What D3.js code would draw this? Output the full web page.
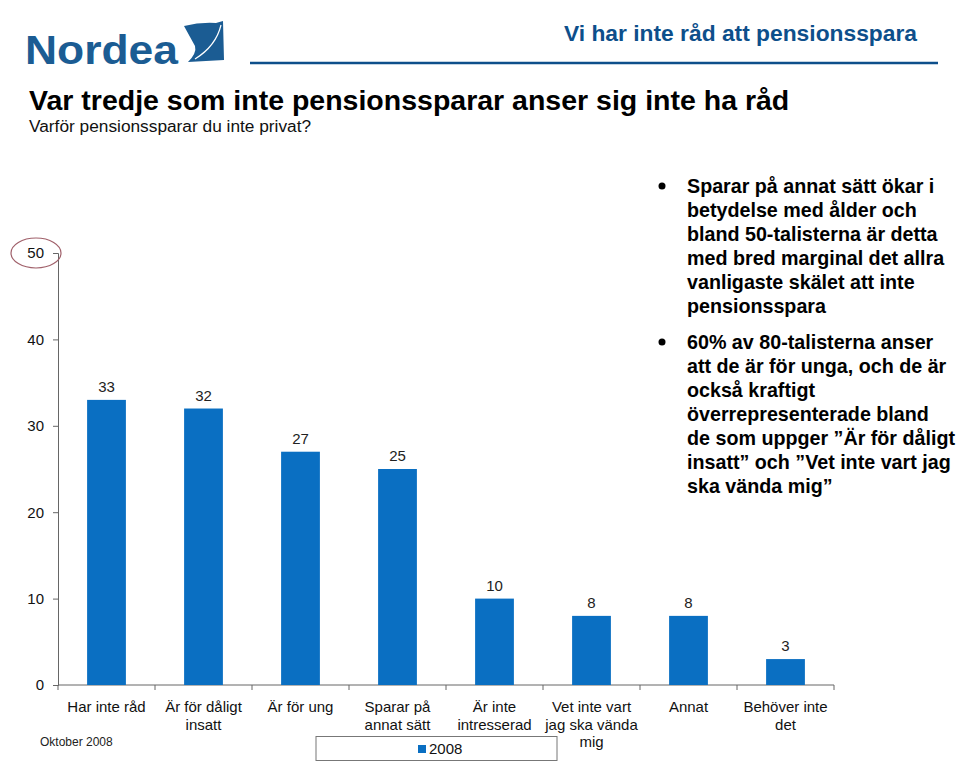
<!DOCTYPE html>
<html>
<head>
<meta charset="utf-8">
<script src="https://cdn.jsdelivr.net/npm/d3@7"></script>
<style>
  body { margin: 0; background: #fff; }
  svg { display: block; font-family: "Liberation Sans", Arial, sans-serif; }
</style>
</head>
<body>
<script>
const categories = [
  ['Har inte råd'],
  ['Är för dåligt', 'insatt'],
  ['Är för ung'],
  ['Sparar på', 'annat sätt'],
  ['Är inte', 'intresserad'],
  ['Vet inte vart', 'jag ska vända', 'mig'],
  ['Annat'],
  ['Behöver inte', 'det']
]
const values2008 = [33, 32, 27, 25, 10, 8, 8, 3]
const yTicks = [0, 10, 20, 30, 40, 50]

const bullets = [
  ['Sparar på annat sätt ökar i', 'betydelse med ålder och', 'bland 50-talisterna är detta',
    'med bred marginal det allra', 'vanligaste skälet att inte', 'pensionsspara'],
  ['60% av 80-talisterna anser', 'att de är för unga, och de är', 'också kraftigt',
    'överrepresenterade bland', 'de som uppger ”Är för dåligt', 'insatt” och ”Vet inte vart jag',
    'ska vända mig”']
]

const WIDTH = 959
const HEIGHT = 773
const BLUE = '#0a6fc2'
const NAVY = '#0d4f8b'

const svg = d3.select('body').append('svg')
  .attr('width', WIDTH)
  .attr('height', HEIGHT)

// header
svg.append('text')
  .attr('x', 25).attr('y', 64)
  .attr('font-size', 40).attr('font-weight', 'bold')
  .attr('fill', '#1b5c93')
  .attr('textLength', 153).attr('lengthAdjust', 'spacingAndGlyphs')
  .text('Nordea')

svg.append('path')
  .attr('d', 'M184,26 Q200,22 216,23 L223,21 L224,60 L188,62 Q197,53 195,46 Z')
  .attr('fill', '#1b5c93')
svg.append('path')
  .attr('d', 'M195,59 Q216,46 221,25')
  .attr('fill', 'none').attr('stroke', '#fff').attr('stroke-width', 1.2)

svg.append('text')
  .attr('x', 917).attr('y', 41)
  .attr('text-anchor', 'end')
  .attr('font-size', 22.8).attr('font-weight', 'bold')
  .attr('fill', NAVY)
  .text('Vi har inte råd att pensionsspara')

svg.append('line')
  .attr('x1', 250).attr('x2', 938)
  .attr('y1', 63).attr('y2', 63)
  .attr('stroke', NAVY).attr('stroke-width', 2.5)

svg.append('text')
  .attr('x', 29).attr('y', 110)
  .attr('font-size', 28.5).attr('font-weight', 'bold')
  .attr('fill', '#000')
  .text('Var tredje som inte pensionssparar anser sig inte ha råd')

svg.append('text')
  .attr('x', 29).attr('y', 132)
  .attr('font-size', 17.3)
  .attr('fill', '#111')
  .text('Varför pensionssparar du inte privat?')

// chart
const margin = { left: 58, right: 834, top: 253, bottom: 685 }

const x = d3.scaleBand()
  .domain(d3.range(categories.length))
  .range([margin.left, margin.right])
  .paddingInner(0.6)
  .paddingOuter(0.3)

const y = d3.scaleLinear()
  .domain([0, 50])
  .range([margin.bottom, margin.top])

const yAxis = svg.append('g')
  .attr('transform', `translate(${margin.left},0)`)
  .call(d3.axisLeft(y).tickValues(yTicks).tickSize(5).tickPadding(9))
yAxis.select('.domain').attr('stroke', '#666')
yAxis.selectAll('.tick line').attr('stroke', '#666')
yAxis.selectAll('.tick text')
  .attr('font-size', 15).attr('fill', '#111')
  .attr('font-family', '"Liberation Sans", Arial, sans-serif')

const band = (margin.right - margin.left) / categories.length
const xAxis = svg.append('g')
  .attr('transform', `translate(0,${margin.bottom})`)
xAxis.append('line')
  .attr('x1', margin.left).attr('x2', margin.right)
  .attr('stroke', '#666')
xAxis.selectAll('.tk')
  .data(d3.range(categories.length + 1))
  .enter().append('line')
  .attr('class', 'tk')
  .attr('x1', i => margin.left + i * band)
  .attr('x2', i => margin.left + i * band)
  .attr('y1', 0).attr('y2', 5)
  .attr('stroke', '#666')

svg.selectAll('.bar')
  .data(values2008)
  .enter().append('rect')
  .attr('class', 'bar')
  .attr('x', (d, i) => x(i))
  .attr('width', x.bandwidth())
  .attr('y', d => y(d))
  .attr('height', d => y(0) - y(d))
  .attr('fill', BLUE)

svg.selectAll('.val')
  .data(values2008)
  .enter().append('text')
  .attr('class', 'val')
  .attr('x', (d, i) => x(i) + x.bandwidth() / 2)
  .attr('y', d => y(d) - 8)
  .attr('text-anchor', 'middle')
  .attr('font-size', 15).attr('fill', '#222')
  .text(d => d)

const catLabels = svg.selectAll('.cat')
  .data(categories)
  .enter().append('text')
  .attr('class', 'cat')
  .attr('text-anchor', 'middle')
  .attr('font-size', 15).attr('fill', '#111')
  .attr('transform', (d, i) => `translate(${x(i) + x.bandwidth() / 2},${margin.bottom + 27})`)
catLabels.selectAll('tspan')
  .data(d => d)
  .enter().append('tspan')
  .attr('x', 0)
  .attr('y', (d, j) => j * 17.5)
  .text(d => d)

// red ellipse around top tick
svg.append('ellipse')
  .attr('cx', 36).attr('cy', y(50))
  .attr('rx', 25).attr('ry', 15)
  .attr('fill', 'none').attr('stroke', '#a0606a').attr('stroke-width', 1.2)

// legend
const legend = svg.append('g')
legend.append('rect')
  .attr('x', 316).attr('y', 736.5)
  .attr('width', 241).attr('height', 24)
  .attr('fill', '#fff').attr('stroke', '#777')
legend.append('rect')
  .attr('x', 418).attr('y', 745)
  .attr('width', 8).attr('height', 8)
  .attr('fill', BLUE)
legend.append('text')
  .attr('x', 429).attr('y', 754)
  .attr('font-size', 15).attr('fill', '#111')
  .text('2008')

svg.append('text')
  .attr('x', 40).attr('y', 746)
  .attr('font-size', 12).attr('fill', '#222')
  .text('Oktober 2008')

// bullets
const bulletStarts = [193, 349]
bullets.forEach((lines, b) => {
  const g = svg.append('g')
  g.append('circle')
    .attr('cx', 662).attr('cy', bulletStarts[b] - 7)
    .attr('r', 3.5).attr('fill', '#000')
  g.append('text')
    .attr('font-size', 19.7).attr('font-weight', 'bold').attr('fill', '#000')
    .selectAll('tspan')
    .data(lines)
    .enter().append('tspan')
    .attr('x', 687)
    .attr('y', (d, j) => bulletStarts[b] + j * 24)
    .text(d => d)
})
</script>
</body>
</html>
